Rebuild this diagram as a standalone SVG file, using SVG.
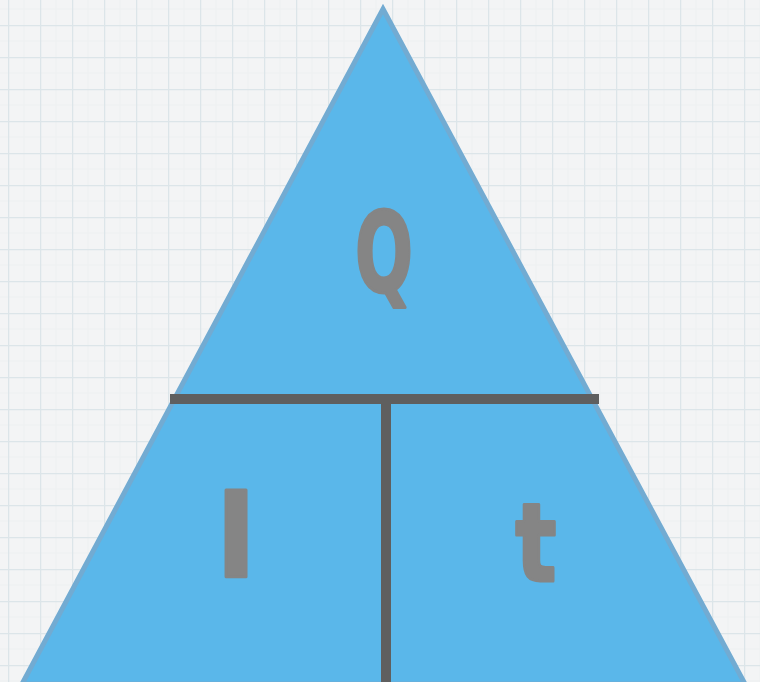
<svg xmlns="http://www.w3.org/2000/svg" width="760" height="682" viewBox="0 0 760 682">
<style>
.letter{font-family:"DejaVu Sans","Liberation Sans",sans-serif;font-weight:bold;fill:#858585;stroke:#858585;stroke-width:3;stroke-linejoin:round;text-anchor:middle}
.bar{stroke:#5f5f5f;stroke-width:10;fill:none}
</style>
<defs>
<pattern id="grid" x="8" y="25" width="32" height="32" patternUnits="userSpaceOnUse">
<rect width="32" height="32" fill="#f3f4f5"/>
<path d="M16 0V32M0 16H32" stroke="#eef1f2" stroke-width="1"/>
<path d="M0 0V32M0 0H32" stroke="#dce5e9" stroke-width="2.5"/>
</pattern>
</defs>
<rect width="760" height="682" fill="url(#grid)"/>
<g id="triangle">
<polygon points="383,9 745,684 22,684" fill="#5ab7ea" stroke="#72abd2" stroke-width="5" stroke-linejoin="miter"/>
</g>
<g id="connectors">
<line class="bar" x1="170" y1="399" x2="599" y2="399"/>
<line class="bar" x1="386" y1="399" x2="386" y2="682"/>
</g>
<g id="node-Q">
<text class="letter" transform="translate(384,292) scale(0.62,1)" font-size="110">Q</text>
</g>
<g id="node-I">
<text class="letter" x="236" y="577" font-size="114">l</text>
</g>
<g id="node-t">
<text class="letter" transform="translate(536,581) scale(0.8,1)" font-size="108">t</text>
</g>
</svg>
